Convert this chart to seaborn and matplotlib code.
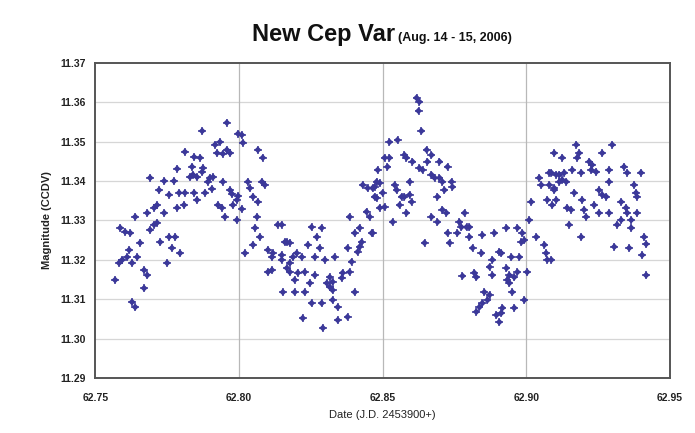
"""
New Cep Var light curve (Aug. 14 - 15, 2006), CCD V magnitudes vs J.D.
"""

import numpy as np
import pandas as pd
import matplotlib
matplotlib.use('Agg')
import matplotlib.pyplot as plt
import seaborn as sns

# ── Data ──────────────────────────────────────────────────────────────────────
jd = [
    62.7812, 62.7844, 62.7785, 62.7837, 62.7691, 62.7740, 62.7774, 62.7830,
    62.7722, 62.7757, 62.7792, 62.7812, 62.7844, 62.7785, 62.7809, 62.7715,
    62.7705, 62.7681, 62.7740, 62.7639, 62.7587, 62.7604, 62.7622, 62.7691,
    62.7705, 62.7715, 62.7757, 62.7778, 62.7656, 62.7726, 62.7767, 62.7795,
    62.7618, 62.7611, 62.7594, 62.7583, 62.7646, 62.7628, 62.7670, 62.7681,
    62.7750, 62.7569, 62.7670, 62.7628, 62.7639,
    62.7958, 62.7872, 62.7997, 62.8010, 62.8014, 62.7934, 62.7917, 62.7958,
    62.7969, 62.7924, 62.7944, 62.8066, 62.8083, 62.7865, 62.7875, 62.7872,
    62.7840, 62.7854, 62.7899, 62.7910, 62.7892, 62.7944, 62.8031, 62.8038,
    62.8080, 62.8090, 62.7854, 62.7882, 62.7906, 62.7969, 62.7976, 62.7997,
    62.7993, 62.8049, 62.8066, 62.7927, 62.7941, 62.7979, 62.8010, 62.7951,
    62.7993, 62.8063, 62.8056, 62.8073, 62.8135, 62.8049, 62.8021, 62.8101,
    62.8118, 62.8115, 62.8149, 62.8167, 62.8101, 62.8115, 62.8149, 62.8167,
    62.8153,
    62.8483, 62.8431, 62.8448, 62.8472, 62.8479, 62.8385, 62.8444, 62.8455,
    62.8420, 62.8403, 62.8462, 62.8427, 62.8420, 62.8378, 62.8413, 62.8253,
    62.8288, 62.8271, 62.8149, 62.8160, 62.8177, 62.8240, 62.8281, 62.8201,
    62.8219, 62.8188, 62.8264, 62.8299, 62.8333, 62.8177, 62.8392, 62.8385,
    62.8361, 62.8358, 62.8316, 62.8326, 62.8306, 62.8177, 62.8205, 62.8229,
    62.8194, 62.8264, 62.8247, 62.8316, 62.8326, 62.8403, 62.8194, 62.8229,
    62.8253, 62.8288, 62.8326, 62.8344, 62.8222, 62.8344, 62.8378, 62.8292,
    62.8618, 62.8628, 62.8625, 62.8635, 62.8524, 62.8552, 62.8576, 62.8583,
    62.8507, 62.8524, 62.8517, 62.8604, 62.8653, 62.8670, 62.8656, 62.8698,
    62.8628, 62.8639, 62.8726, 62.8670, 62.8681, 62.8698, 62.8708, 62.8740,
    62.8743, 62.8479, 62.8490, 62.8594, 62.8542, 62.8549, 62.8465, 62.8472,
    62.8500, 62.8566, 62.8576, 62.8594, 62.8601, 62.8691, 62.8715, 62.8490,
    62.8507, 62.8559, 62.8708, 62.8722, 62.8583, 62.8535, 62.8670, 62.8691,
    62.8767, 62.8774, 62.8760, 62.8465, 62.8726, 62.8646, 62.8733, 62.8778,
    62.9097, 62.9045, 62.9080, 62.9104, 62.9052, 62.9080, 62.9097, 62.9017,
    62.9073, 62.9104, 62.9090, 62.8785, 62.8792, 62.8802, 62.9010, 62.8931,
    62.8969, 62.8986, 62.8802, 62.8847, 62.8889, 62.9035, 62.8983, 62.8993,
    62.9063, 62.8813, 62.8844, 62.8906, 62.8913, 62.9069, 62.9073, 62.8948,
    62.8976, 62.8882, 62.8819, 62.8826, 62.8872, 62.8882, 62.8931, 62.8941,
    62.8958, 62.8969, 62.9003, 62.8934, 62.8941, 62.8854, 62.8872, 62.8865,
    62.8951, 62.8993, 62.8847, 62.8837, 62.8826, 62.8917, 62.8913, 62.8896,
    62.8958, 62.8906,
    62.9174, 62.9299, 62.9125, 62.9184, 62.9177, 62.9264, 62.9219, 62.9229,
    62.9226, 62.9243, 62.9340, 62.9399, 62.9351, 62.9160, 62.9191, 62.9288,
    62.9087, 62.9115, 62.9132, 62.9125, 62.9139, 62.9115, 62.9097, 62.9288,
    62.9375, 62.9382, 62.9385, 62.9253, 62.9264, 62.9278, 62.9167, 62.9194,
    62.9330, 62.9236, 62.9142, 62.9156, 62.9201, 62.9347, 62.9351, 62.9253,
    62.9288, 62.9385, 62.9208, 62.9330, 62.9316, 62.9149, 62.9365, 62.9365,
    62.9191, 62.9410, 62.9417, 62.9306, 62.9358, 62.9403, 62.9087, 62.9417,
]

mag = [
    11.3474, 11.3461, 11.3431, 11.3436, 11.3408, 11.3400, 11.3400, 11.3410,
    11.3377, 11.3365, 11.3370, 11.3370, 11.3370, 11.3332, 11.3339, 11.3339,
    11.3332, 11.3319, 11.3319, 11.3309, 11.3281, 11.3271, 11.3268, 11.3276,
    11.3289, 11.3294, 11.3258, 11.3258, 11.3243, 11.3245, 11.3230, 11.3217,
    11.3225, 11.3207, 11.3200, 11.3192, 11.3207, 11.3192, 11.3174, 11.3161,
    11.3192, 11.3149, 11.3128, 11.3093, 11.3080,
    11.3548, 11.3527, 11.3520, 11.3517, 11.3497, 11.3499, 11.3492, 11.3479,
    11.3471, 11.3471, 11.3469, 11.3479, 11.3459, 11.3459, 11.3433, 11.3423,
    11.3416, 11.3410, 11.3408, 11.3410, 11.3398, 11.3398, 11.3398, 11.3382,
    11.3398, 11.3390, 11.3352, 11.3370, 11.3380, 11.3377, 11.3367, 11.3362,
    11.3352, 11.3360, 11.3347, 11.3339, 11.3332, 11.3339, 11.3329, 11.3309,
    11.3301, 11.3309, 11.3281, 11.3258, 11.3289, 11.3238, 11.3217, 11.3225,
    11.3217, 11.3207, 11.3212, 11.3245, 11.3169, 11.3174, 11.3200, 11.3179,
    11.3118,
    11.3428, 11.3390, 11.3382, 11.3385, 11.3357, 11.3309, 11.3322, 11.3309,
    11.3281, 11.3268, 11.3268, 11.3245, 11.3233, 11.3230, 11.3220, 11.3283,
    11.3281, 11.3258, 11.3289, 11.3245, 11.3243, 11.3238, 11.3230, 11.3217,
    11.3207, 11.3207, 11.3207, 11.3200, 11.3207, 11.3192, 11.3195, 11.3169,
    11.3167, 11.3154, 11.3156, 11.3144, 11.3141, 11.3169, 11.3167, 11.3169,
    11.3149, 11.3161, 11.3141, 11.3131, 11.3123, 11.3118, 11.3118, 11.3118,
    11.3090, 11.3090, 11.3098, 11.3080, 11.3052, 11.3047, 11.3055, 11.3027,
    11.3611, 11.3601, 11.3578, 11.3527, 11.3499, 11.3504, 11.3466, 11.3459,
    11.3459, 11.3459, 11.3436, 11.3449, 11.3479, 11.3466, 11.3449, 11.3449,
    11.3433, 11.3428, 11.3436, 11.3416, 11.3408, 11.3408, 11.3398, 11.3398,
    11.3385, 11.3398, 11.3395, 11.3398, 11.3390, 11.3377, 11.3382, 11.3360,
    11.3370, 11.3360, 11.3360, 11.3365, 11.3347, 11.3360, 11.3377, 11.3332,
    11.3334, 11.3339, 11.3327, 11.3319, 11.3319, 11.3296, 11.3309, 11.3296,
    11.3296, 11.3283, 11.3268, 11.3268, 11.3268, 11.3243, 11.3243, 11.3159,
    11.3471, 11.3408, 11.3421, 11.3416, 11.3390, 11.3390, 11.3377, 11.3347,
    11.3352, 11.3352, 11.3339, 11.3319, 11.3283, 11.3283, 11.3301, 11.3281,
    11.3281, 11.3268, 11.3258, 11.3263, 11.3268, 11.3258, 11.3245, 11.3250,
    11.3238, 11.3230, 11.3217, 11.3220, 11.3217, 11.3217, 11.3200, 11.3207,
    11.3207, 11.3200, 11.3167, 11.3156, 11.3182, 11.3161, 11.3179, 11.3161,
    11.3156, 11.3169, 11.3169, 11.3149, 11.3141, 11.3118, 11.3111, 11.3098,
    11.3118, 11.3098, 11.3090, 11.3080, 11.3068, 11.3078, 11.3065, 11.3060,
    11.3078, 11.3042,
    11.3492, 11.3492, 11.3459, 11.3471, 11.3459, 11.3471, 11.3449, 11.3441,
    11.3428, 11.3423, 11.3436, 11.3421, 11.3421, 11.3428, 11.3421, 11.3428,
    11.3421, 11.3416, 11.3421, 11.3403, 11.3398, 11.3398, 11.3382, 11.3398,
    11.3390, 11.3370, 11.3360, 11.3377, 11.3365, 11.3360, 11.3370, 11.3352,
    11.3347, 11.3339, 11.3332, 11.3327, 11.3327, 11.3332, 11.3319, 11.3319,
    11.3319, 11.3319, 11.3309, 11.3301, 11.3289, 11.3289, 11.3301, 11.3281,
    11.3258, 11.3258, 11.3240, 11.3233, 11.3230, 11.3212, 11.3200, 11.3161,
]

x_ticks = [62.75, 62.80, 62.85, 62.90, 62.95]
y_ticks = [11.29, 11.30, 11.31, 11.32, 11.33, 11.34, 11.35, 11.36, 11.37]

MARKER_COLOR = '#3b3899'


def main():
    df = pd.DataFrame({'jd': jd, 'mag': mag})

    sns.set_theme(style='white')
    plt.rcParams['font.family'] = ['Liberation Sans', 'DejaVu Sans']

    fig = plt.figure(figsize=(6.95, 4.33), dpi=100)
    ax = fig.add_axes([0.137, 0.127, 0.827, 0.728])

    # ── Grid ──────────────────────────────────────────────────────────────────
    for yv in y_ticks[1:-1]:
        ax.axhline(yv, color='#d6d6d6', lw=0.9, zorder=0)
    for xv in x_ticks[1:-1]:
        ax.axvline(xv, color='#b8b8b8', lw=0.9, zorder=0)

    # ── Points ────────────────────────────────────────────────────────────────
    sns.scatterplot(data=df, x='jd', y='mag', ax=ax, marker='D', s=13,
                    color=MARKER_COLOR, edgecolor='none', zorder=3)
    sns.scatterplot(data=df, x='jd', y='mag', ax=ax, marker='+', s=34,
                    color=MARKER_COLOR, linewidth=1.1, zorder=3)

    ax.set_xlim(x_ticks[0], x_ticks[-1])
    ax.set_ylim(y_ticks[0], y_ticks[-1])
    ax.set_xticks(x_ticks)
    ax.set_yticks(y_ticks)
    ax.set_xticklabels([f'{v:.2f}' for v in x_ticks])
    ax.set_yticklabels([f'{v:.2f}' for v in y_ticks])
    ax.tick_params(axis='both', labelsize=7.5, colors='#222222',
                   length=3, width=0.8, direction='out', pad=4)
    for lab in ax.get_xticklabels() + ax.get_yticklabels():
        lab.set_fontweight('bold')
    ax.tick_params(axis='x', length=0, pad=11)

    for sp in ax.spines.values():
        sp.set_color('#555555')
        sp.set_linewidth(1.4)

    ax.set_xlabel('Date (J.D. 2453900+)', fontsize=8, color='#222222', labelpad=5)
    ax.set_ylabel('Magnitude (CCDV)', fontsize=8, fontweight='bold',
                  color='#222222', labelpad=6)

    # ── Title ─────────────────────────────────────────────────────────────────
    fig.text(0.568, 0.905, 'New Cep Var', ha='right', va='baseline',
             fontsize=17, fontweight='bold', color='#111111')
    fig.text(0.573, 0.905, '(Aug. 14 - 15, 2006)', ha='left', va='baseline',
             fontsize=9, fontweight='bold', color='#111111')

    fig.savefig('out.png', dpi=100)
    plt.close(fig)


if __name__ == '__main__':
    main()
